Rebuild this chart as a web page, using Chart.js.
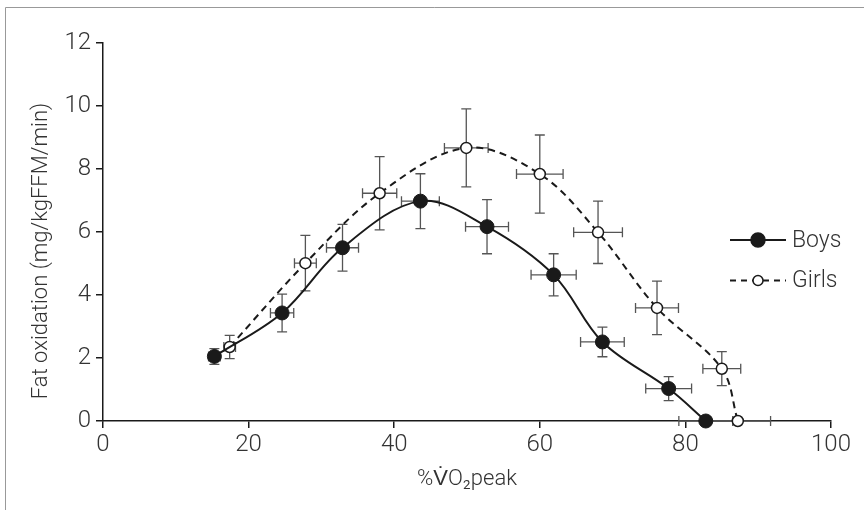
<!DOCTYPE html>
<html><head><meta charset="utf-8">
<script src="https://cdn.jsdelivr.net/npm/chart.js@4.4.1/dist/chart.umd.min.js"></script>
<style>html,body{margin:0;padding:0;background:#fff;} #wrap{position:relative;width:864px;height:510px;}</style>
</head><body><div id="wrap"><canvas id="c" width="864" height="510"></canvas></div>
<script>
// ---- data ----
const boysX    = [15.3, 24.6, 32.9, 43.6, 52.75, 61.9, 68.6, 77.7, 82.8];
const boysY    = [2.05, 3.43, 5.50, 6.98, 6.17, 4.64, 2.51, 1.03, 0];
const boysXErr = [0.8, 1.6, 2.2, 2.6, 2.95, 3.1, 3.0, 3.15, 3.7];
const boysYErr = [0.25, 0.6, 0.74, 0.87, 0.86, 0.67, 0.47, 0.38, 0];
const girlsX    = [17.4, 27.8, 38.0, 49.9, 60.0, 68.0, 76.1, 85.0, 87.2];
const girlsY    = [2.35, 5.01, 7.23, 8.67, 7.84, 5.99, 3.59, 1.66, 0];
const girlsXErr = [0.8, 1.5, 2.35, 3.0, 3.2, 3.35, 2.95, 2.6, 4.5];
const girlsYErr = [0.37, 0.88, 1.16, 1.24, 1.24, 0.99, 0.85, 0.54, 0];
const xTicks = [0, 20, 40, 60, 80, 100];
const yTicks = [0, 2, 4, 6, 8, 10, 12];
const seriesNames = ['Boys', 'Girls'];
const xTitle = '%V\u0307O\u2082peak';
const yTitle = 'Fat oxidation (mg/kgFFM/min)';

const FONT = "Roboto, 'Liberation Sans', Arial, sans-serif";
const INK = '#1a1a1a';
const TXT = '#333';

const errSets = [
  {xe: boysXErr, ye: boysYErr},
  {xe: girlsXErr, ye: girlsYErr}
];

const errorBars = {
  id: 'errorBars',
  beforeDatasetsDraw(chart) {
    const {ctx, scales: {x, y}} = chart;
    ctx.save();
    ctx.strokeStyle = '#555';
    ctx.lineWidth = 1.3;
    const cap = 5;
    chart.data.datasets.forEach((ds, di) => {
      const e = errSets[di];
      ds.data.forEach((p, i) => {
        const px = x.getPixelForValue(p.x), py = y.getPixelForValue(p.y);
        if (e.ye[i] > 0) {
          const t = y.getPixelForValue(p.y + e.ye[i]), b = y.getPixelForValue(p.y - e.ye[i]);
          ctx.beginPath();
          ctx.moveTo(px, t); ctx.lineTo(px, b);
          ctx.moveTo(px - cap, t); ctx.lineTo(px + cap, t);
          ctx.moveTo(px - cap, b); ctx.lineTo(px + cap, b);
          ctx.stroke();
        }
        if (e.xe[i] > 0) {
          const l = x.getPixelForValue(p.x - e.xe[i]), r = x.getPixelForValue(p.x + e.xe[i]);
          ctx.beginPath();
          ctx.moveTo(l, py); ctx.lineTo(r, py);
          ctx.moveTo(l, py - cap); ctx.lineTo(l, py + cap);
          ctx.moveTo(r, py - cap); ctx.lineTo(r, py + cap);
          ctx.stroke();
        }
      });
    });
    ctx.restore();
  }
};

const decor = {
  id: 'decor',
  beforeDraw(chart) {
    const ctx = chart.ctx;
    ctx.save();
    ctx.strokeStyle = '#999';
    ctx.lineWidth = 1;
    ctx.beginPath();
    ctx.moveTo(5.5, 510); ctx.lineTo(5.5, 7.5); ctx.lineTo(864, 7.5);
    ctx.stroke();
    ctx.restore();
  },
  afterDraw(chart) {
    const {ctx, chartArea} = chart;
    ctx.save();
    ctx.fillStyle = TXT;
    ctx.font = `300 22px ${FONT}`;
    ctx.textAlign = 'center';
    ctx.textBaseline = 'middle';
    ctx.fillText(xTitle, (chartArea.left + chartArea.right) / 2, 479);
    ctx.save();
    ctx.translate(41, 251);
    ctx.rotate(-Math.PI / 2);
    ctx.fillText(yTitle, 0, 0);
    ctx.restore();
    const items = [
      {y: 240, dash: [], fill: INK, r: 7},
      {y: 280.5, dash: [6, 5], fill: '#fff', r: 5}
    ];
    items.forEach((it, i) => {
      ctx.strokeStyle = INK;
      ctx.lineWidth = 2;
      ctx.setLineDash(it.dash);
      ctx.beginPath(); ctx.moveTo(730, it.y); ctx.lineTo(786, it.y); ctx.stroke();
      ctx.setLineDash([]);
      ctx.beginPath(); ctx.arc(758, it.y, it.r, 0, Math.PI * 2);
      ctx.fillStyle = it.fill; ctx.fill();
      ctx.lineWidth = 1.5; ctx.stroke();
      ctx.fillStyle = TXT;
      ctx.font = `300 23px ${FONT}`;
      ctx.textAlign = 'left';
      ctx.fillText(seriesNames[i], 792, it.y + 1);
    });
    ctx.restore();
  }
};

const tickFont = {family: FONT, size: 24, weight: 300};

new Chart(document.getElementById('c'), {
  type: 'line',
  data: {
    datasets: [
      {
        label: seriesNames[0],
        data: boysX.map((v, i) => ({x: v, y: boysY[i]})),
        borderColor: INK, borderWidth: 2,
        pointRadius: 7, pointBackgroundColor: INK, pointBorderColor: INK, pointBorderWidth: 1,
        tension: 0.35, fill: false, clip: false
      },
      {
        label: seriesNames[1],
        data: girlsX.map((v, i) => ({x: v, y: girlsY[i]})),
        borderColor: INK, borderWidth: 2, borderDash: [7, 5],
        pointRadius: 5.5, pointBackgroundColor: '#fff', pointBorderColor: INK, pointBorderWidth: 1.5,
        tension: 0.35, fill: false, clip: false
      }
    ]
  },
  options: {
    responsive: false, animation: false, events: [],
    layout: {padding: {left: 0, top: 43, right: 33, bottom: 0}},
    plugins: {legend: {display: false}, tooltip: {enabled: false}},
    scales: {
      x: {
        type: 'linear', min: xTicks[0], max: xTicks[xTicks.length - 1],
        afterBuildTicks: s => { s.ticks = xTicks.map(v => ({value: v})); },
        afterFit: s => { s.height = 89; },
        grid: {display: true, drawOnChartArea: false, drawTicks: true, tickLength: 7, color: INK, lineWidth: 1.5},
        border: {display: true, color: INK, width: 1.5},
        ticks: {font: tickFont, color: TXT, padding: 3, maxRotation: 0}
      },
      y: {
        type: 'linear', min: yTicks[0], max: yTicks[yTicks.length - 1],
        afterBuildTicks: s => { s.ticks = yTicks.map(v => ({value: v})); },
        afterFit: s => { s.width = 103; },
        grid: {display: true, drawOnChartArea: false, drawTicks: true, tickLength: 7, color: INK, lineWidth: 1.5},
        border: {display: true, color: INK, width: 1.5},
        ticks: {font: tickFont, color: TXT, padding: 5}
      }
    }
  },
  plugins: [errorBars, decor]
});
</script>
</body></html>
